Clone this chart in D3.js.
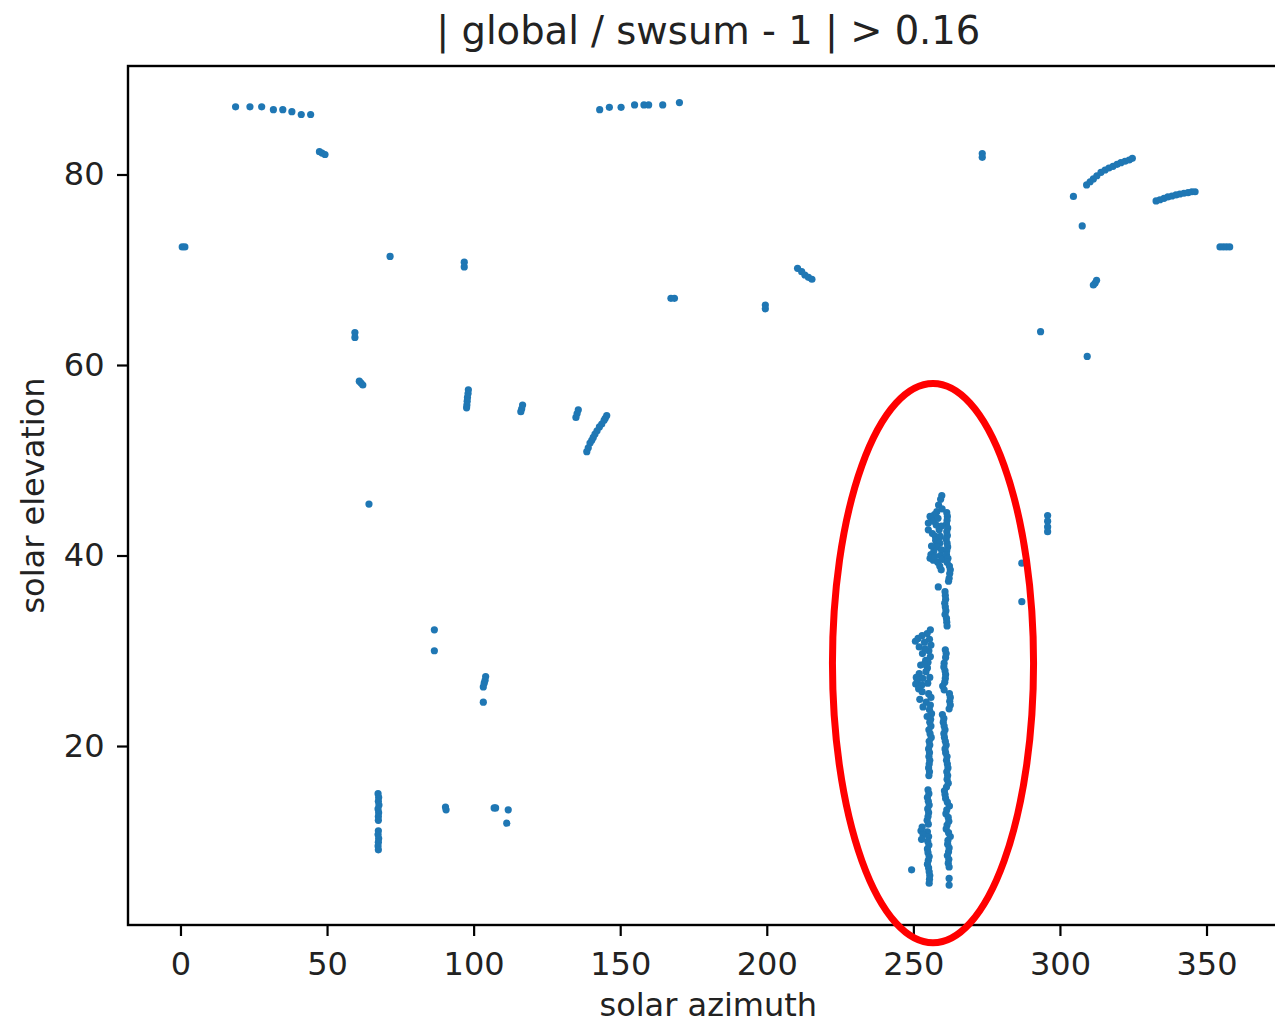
<!DOCTYPE html>
<html>
<head>
<meta charset="utf-8">
<script src="https://cdn.jsdelivr.net/npm/d3@7"></script>
<style>
  body { margin: 0; background: #fff; }
  svg { display: block; font-family: "DejaVu Sans", sans-serif; }
</style>
</head>
<body>
<div id="chart"></div>
<script>
// points: [azimuth, elevation]
const highSunPoints = [
  [18.8, 87.1], [23.7, 87.1], [27.7, 87.1], [31.7, 86.8], [34.9, 86.8], [38.0, 86.6], [41.2, 86.3], [44.4, 86.3],
  [47.4, 82.4], [48.3, 82.25], [49.3, 82.1],
  [143.0, 86.8], [146.3, 87.05], [150.3, 87.05], [154.9, 87.3], [158.1, 87.3], [159.7, 87.3], [164.5, 87.3], [170.2, 87.55],
  [273.5, 82.2], [273.5, 81.8]
];

const morningPoints = [
  [0.6, 72.4], [1.5, 72.4], [71.5, 71.4], [96.8, 70.8], [96.8, 70.3],
  [59.5, 63.4], [59.5, 62.9], [61.0, 58.3], [61.6, 58.1], [62.2, 57.9],
  [98.2, 57.4], [98.1, 57.0], [97.9, 56.6], [97.8, 56.2], [97.7, 55.8], [97.6, 55.5],
  [64.3, 45.4], [86.6, 32.2], [86.6, 30.0],
  [104.1, 27.3], [103.9, 26.9], [103.6, 26.6], [103.3, 26.2], [103.3, 24.6],
  [67.4, 15.0], [67.6, 14.6], [67.5, 14.2], [67.7, 13.8], [67.4, 13.4], [67.6, 13.0], [67.5, 12.6], [67.5, 12.2],
  [67.5, 11.1], [67.4, 10.7], [67.6, 10.3], [67.5, 9.9], [67.4, 9.5], [67.5, 9.1],
  [90.4, 13.6], [90.6, 13.3], [107.0, 13.5], [107.5, 13.5], [111.8, 13.3], [111.3, 11.9],
  [116.7, 55.8], [116.4, 55.4], [116.1, 55.1],
  [135.7, 55.3], [135.3, 54.9], [134.9, 54.5],
  [145.4, 54.7], [144.9, 54.4], [144.5, 54.2], [143.7, 53.8], [142.9, 53.5], [142.1, 53.1],
  [141.4, 52.75], [140.8, 52.4], [140.3, 52.1], [139.7, 51.8], [139.1, 51.3], [138.6, 50.9],
  [167.3, 67.0], [168.5, 67.0], [199.5, 66.3], [199.5, 65.9],
  [210.5, 70.15], [211.9, 69.8], [213.0, 69.45], [214.2, 69.2], [215.4, 69.0]
];

const afternoonPoints = [
  [304.6, 77.7],
  [309.1, 78.9], [310.3, 79.24], [311.4, 79.53], [312.6, 79.87], [314.0, 80.23], [315.4, 80.47], [316.7, 80.68],
  [318.1, 80.86], [319.5, 81.07], [320.8, 81.24], [322.2, 81.39], [323.6, 81.52], [324.7, 81.7],
  [332.8, 77.22], [334.1, 77.35], [335.5, 77.5], [336.8, 77.64], [338.2, 77.74], [339.6, 77.85],
  [340.9, 77.95], [342.3, 78.03], [343.7, 78.09], [345.0, 78.19], [346.1, 78.19],
  [354.6, 72.4], [355.7, 72.4], [356.8, 72.4], [357.9, 72.4],
  [307.6, 74.6], [312.5, 68.9], [312.0, 68.6], [311.4, 68.4], [293.4, 63.5], [309.3, 60.9],
  [295.8, 44.2], [295.8, 43.6], [295.8, 43.0], [295.8, 42.5], [287.0, 39.2], [287.0, 35.15]
];

const clusterLeft = [
  [258.0, 44.6], [257.2, 44.3], [255.7, 44.1], [256.3, 43.8], [255.1, 43.4], [257.8, 43.2], [255.1, 42.7], [258.8, 42.7],
  [256.5, 42.3], [257.5, 42.0], [259.2, 42.0], [257.6, 41.6], [258.2, 41.2], [259.0, 41.3], [258.1, 40.9], [259.6, 40.6],
  [257.0, 40.5], [256.0, 40.1], [259.2, 40.0], [255.7, 39.7], [256.8, 39.5], [258.3, 39.3], [259.0, 38.9], [259.5, 38.5],
  [256.9, 43.6], [258.4, 43.9], [259.6, 43.1], [256.2, 41.0], [257.3, 39.9], [259.9, 39.6],
  [255.8, 32.2], [254.7, 31.8], [253.0, 31.6], [255.5, 31.2], [250.7, 31.0], [256.0, 30.6], [252.0, 30.4], [255.3, 30.0],
  [253.1, 29.7], [255.8, 29.4], [254.2, 29.0], [255.0, 28.8], [252.5, 28.5], [254.8, 28.2], [254.3, 27.8], [252.0, 27.6],
  [255.6, 27.2], [251.0, 27.2], [251.4, 26.9], [254.9, 26.6], [250.8, 26.5], [252.0, 26.2],
  [251.6, 31.3], [253.8, 30.9], [254.0, 30.2], [253.7, 28.6], [253.2, 27.1], [252.9, 26.4],
  [251.8, 26.0], [253.0, 25.7], [255.2, 25.5], [256.0, 25.1], [252.2, 24.9], [254.4, 24.6], [255.8, 24.3], [253.3, 24.1],
  [255.5, 23.8], [256.2, 23.4], [254.7, 23.1], [255.9, 22.8],
  [255.6, 22.5], [256.0, 22.1], [255.3, 21.7], [255.7, 21.3], [256.1, 20.9], [255.4, 20.5], [255.6, 20.1], [255.2, 19.7],
  [255.5, 19.3], [255.3, 18.9], [255.6, 18.5], [255.4, 18.1], [255.2, 17.7], [255.5, 17.3], [255.3, 16.9],
  [255.0, 15.4], [255.3, 15.0], [254.8, 14.6], [255.1, 14.2], [255.4, 13.8], [254.9, 13.4], [255.2, 13.0], [255.0, 12.6],
  [254.7, 12.2], [255.1, 11.8], [253.0, 11.5], [252.6, 11.1], [254.8, 11.0], [253.3, 10.7], [255.2, 10.5], [252.8, 10.2],
  [254.9, 10.0], [255.3, 9.6], [254.8, 9.2], [255.0, 8.8], [255.4, 8.4], [255.1, 8.0], [254.8, 7.6], [255.2, 7.2],
  [255.4, 6.8], [255.6, 6.4], [255.5, 6.0], [255.4, 5.6], [249.4, 7.0]
];

const clusterRight = [
  [259.7, 46.3], [259.3, 45.9], [258.6, 45.3], [259.8, 44.9], [261.4, 44.5], [261.6, 44.1], [261.5, 43.7], [261.3, 43.3],
  [261.7, 42.9], [261.4, 42.5], [261.6, 42.1], [261.2, 41.7], [261.5, 41.3], [261.7, 40.9], [261.4, 40.5], [261.3, 40.1],
  [261.8, 39.7], [261.5, 39.3], [262.3, 38.9], [262.6, 38.5], [262.4, 38.1], [262.2, 37.6], [262.0, 37.3],
  [258.5, 36.7], [260.8, 36.2], [260.9, 35.8], [261.0, 35.4], [260.7, 35.0], [260.9, 34.6], [261.1, 34.2], [260.8, 33.8],
  [261.3, 33.4], [261.4, 33.0], [261.5, 32.6],
  [260.9, 30.1], [261.2, 29.7], [261.0, 29.3], [260.5, 28.7], [260.4, 28.3], [260.8, 27.9], [261.0, 27.5], [260.9, 27.1], [260.7, 26.7],
  [260.0, 26.3], [260.5, 25.9], [262.3, 25.5], [262.6, 25.1], [262.4, 24.7], [262.6, 24.3], [262.2, 23.9], [259.9, 23.3],
  [260.4, 22.9], [260.2, 22.5], [260.5, 22.1], [260.8, 21.7], [260.4, 21.3], [260.6, 20.9], [260.9, 20.5], [261.2, 20.1],
  [260.8, 19.7], [261.0, 19.3], [261.5, 18.9], [261.3, 18.5], [261.6, 18.1], [261.8, 17.7], [261.4, 17.3], [261.7, 16.9],
  [261.5, 16.5], [261.9, 16.1], [261.3, 15.7], [260.6, 15.3], [260.8, 14.9], [261.0, 14.5], [261.6, 14.1], [262.3, 13.7],
  [261.4, 13.3], [261.1, 12.9], [261.9, 12.5], [262.1, 12.1], [261.5, 11.7], [261.2, 11.3], [262.0, 10.9], [262.6, 10.5],
  [261.8, 10.1], [261.7, 9.7], [262.2, 9.3], [262.0, 8.9], [261.6, 8.5], [262.1, 8.1], [261.9, 7.7], [262.2, 7.3],
  [262.2, 6.1], [262.2, 5.4]
];

// highlight ellipse: [centre azimuth, centre elevation, half-width (deg az), half-height (deg el)]
const highlight = [256.7, 28.7, 34.3, 29.35];

const xTicks = [0, 50, 100, 150, 200, 250, 300, 350];
const yTicks = [20, 40, 60, 80];

const width = 1275, height = 1024;
const margin = { left: 128, top: 66 };
const plotW = 1160.6, plotH = 859;

const svg = d3.select('#chart').append('svg')
  .attr('width', width)
  .attr('height', height);

const x = d3.scaleLinear().domain([-17.9, 378]).range([margin.left, margin.left + plotW]);
const y = d3.scaleLinear().domain([1.21, 91.39]).range([margin.top + plotH, margin.top]);

const allPoints = highSunPoints.concat(morningPoints, afternoonPoints, clusterLeft, clusterRight);

svg.append('g')
  .selectAll('circle')
  .data(allPoints)
  .enter()
  .append('circle')
  .attr('cx', d => x(d[0]))
  .attr('cy', d => y(d[1]))
  .attr('r', 3.6)
  .attr('fill', '#1f77b4');

// frame
svg.append('rect')
  .attr('x', margin.left)
  .attr('y', margin.top)
  .attr('width', plotW)
  .attr('height', plotH)
  .attr('fill', 'none')
  .attr('stroke', '#000')
  .attr('stroke-width', 2.4);

const xAxis = svg.append('g')
  .attr('transform', `translate(0,${margin.top + plotH})`)
  .call(d3.axisBottom(x).tickValues(xTicks).tickSize(11).tickPadding(16).tickFormat(d3.format('d')));

const yAxis = svg.append('g')
  .attr('transform', `translate(${margin.left},0)`)
  .call(d3.axisLeft(y).tickValues(yTicks).tickSize(11).tickPadding(12.5).tickFormat(d3.format('d')));

[xAxis, yAxis].forEach(a => {
  a.select('.domain').remove();
  a.selectAll('line').attr('stroke', '#000').attr('stroke-width', 2.2);
  a.selectAll('text')
    .attr('fill', '#222')
    .style('font-family', '"DejaVu Sans", sans-serif')
    .style('font-size', '32px');
});

// red highlight ellipse
svg.append('ellipse')
  .attr('cx', x(highlight[0]))
  .attr('cy', y(highlight[1]))
  .attr('rx', x(highlight[0] + highlight[2]) - x(highlight[0]))
  .attr('ry', y(highlight[1] - highlight[3]) - y(highlight[1]))
  .attr('fill', 'none')
  .attr('stroke', '#ff0000')
  .attr('stroke-width', 7);

svg.append('text')
  .attr('x', margin.left + plotW / 2)
  .attr('y', 44)
  .attr('text-anchor', 'middle')
  .style('font-size', '38.5px')
  .attr('fill', '#222')
  .text('| global / swsum - 1 | > 0.16');

svg.append('text')
  .attr('x', margin.left + plotW / 2)
  .attr('y', 1016)
  .attr('text-anchor', 'middle')
  .style('font-size', '32px')
  .attr('fill', '#222')
  .text('solar azimuth');

svg.append('text')
  .attr('transform', `translate(44,${margin.top + plotH / 2}) rotate(-90)`)
  .attr('text-anchor', 'middle')
  .style('font-size', '32px')
  .attr('fill', '#222')
  .text('solar elevation');
</script>
</body>
</html>
